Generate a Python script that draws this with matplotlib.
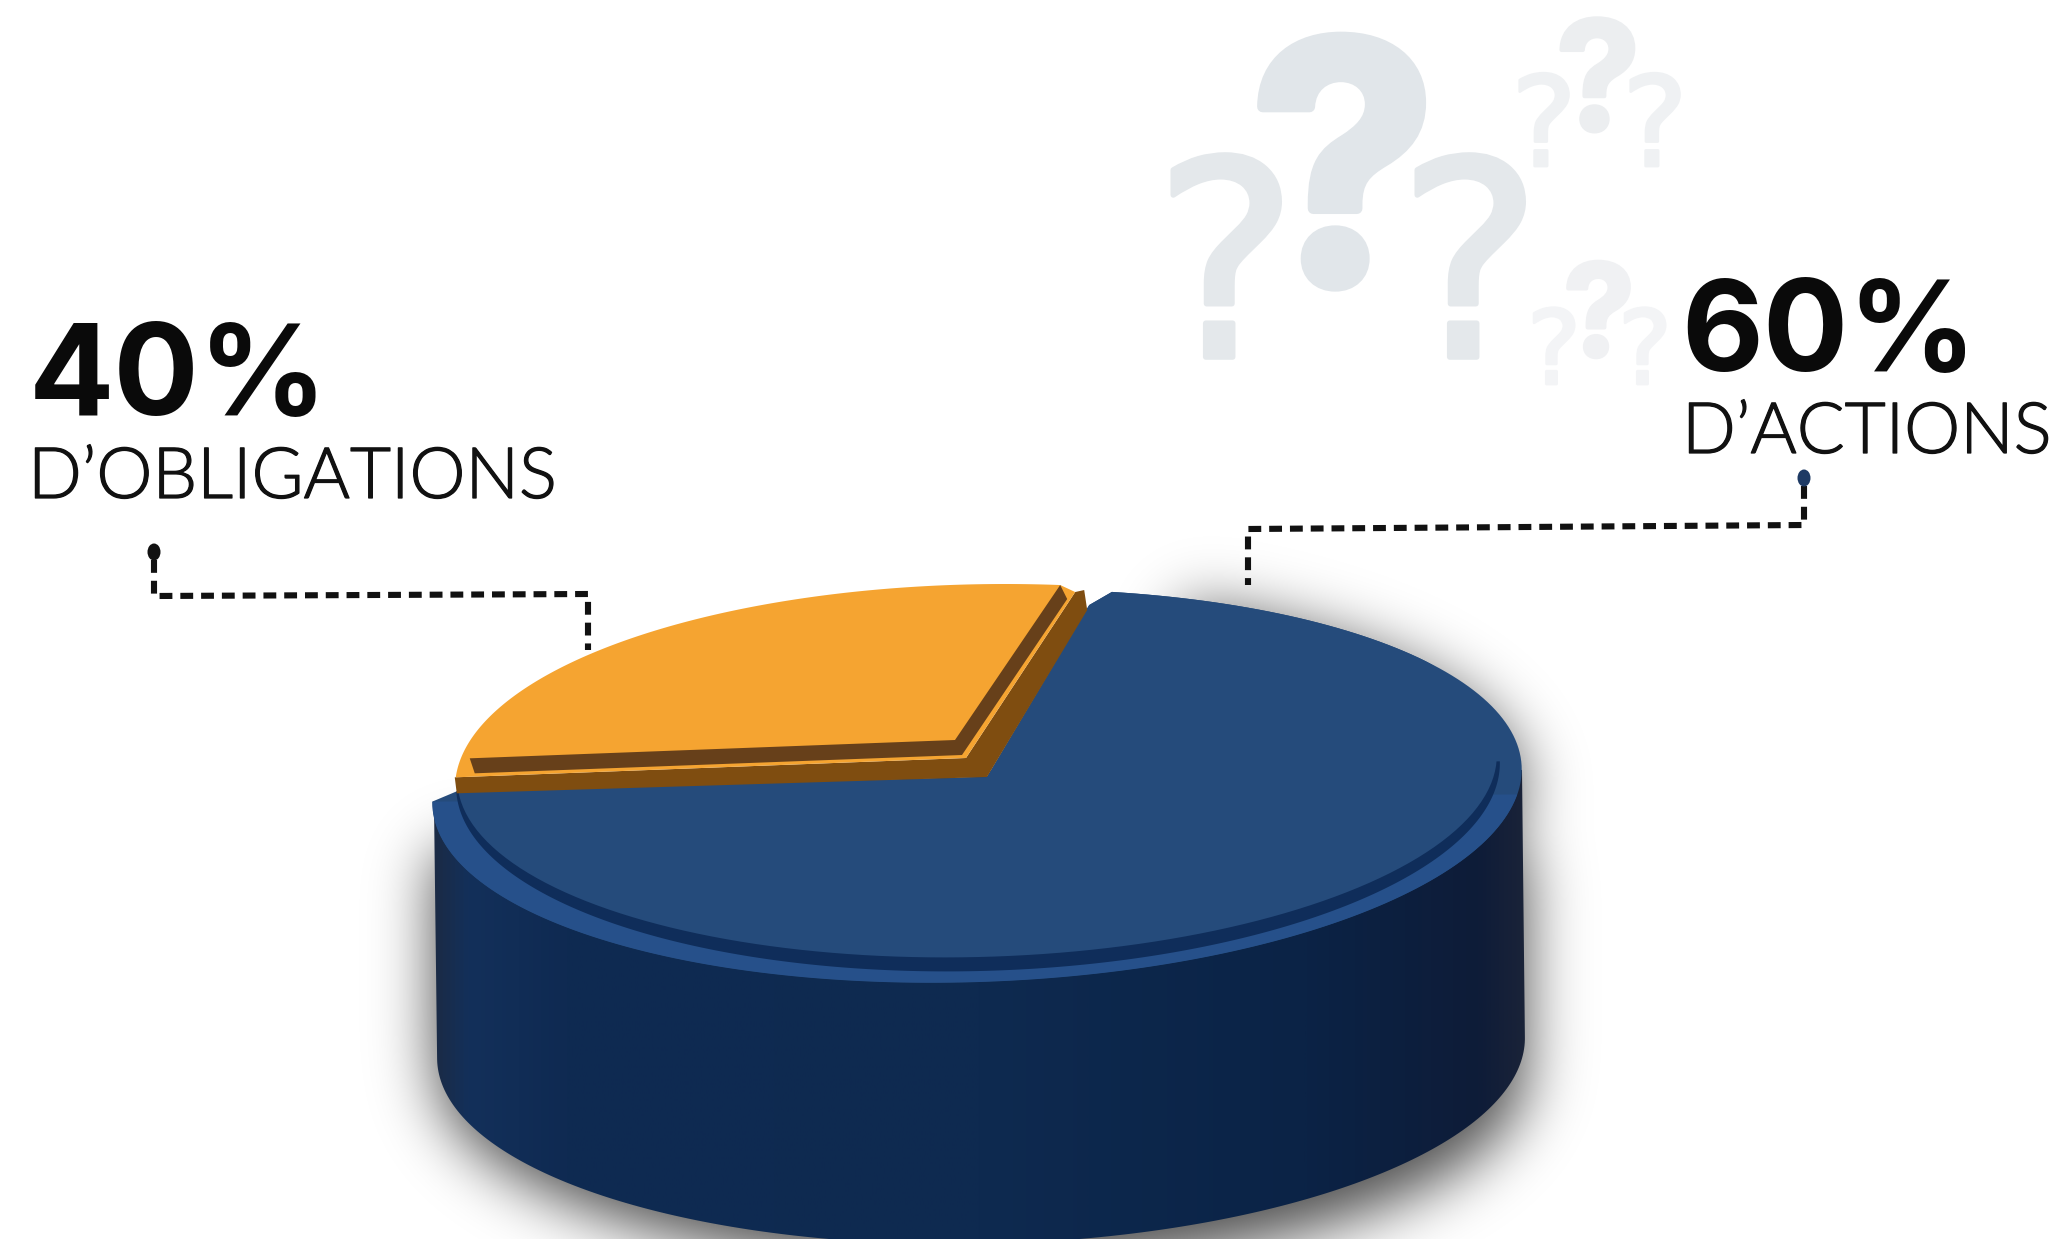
import numpy as np
import matplotlib
matplotlib.use('Agg')
import matplotlib.pyplot as plt
import matplotlib.patheffects as pe
from matplotlib.colors import LinearSegmentedColormap
from matplotlib.patches import Ellipse, Polygon

# Portfolio split
labels = ["D\u2019OBLIGATIONS", "D\u2019ACTIONS"]
shares = [40, 60]

# Angle bookkeeping for the tilted disc: the back of the disc is foreshortened,
# so the orange sector sweeps less of the ellipse than its plain share
FORESHORTEN = 0.665
SECTOR_GAP = 9.3

ORANGE = '#f5a431'
BROWN = '#7f4d10'
BROWN_DARK = '#67401a'
BLUE_TOP = '#254b7b'
BLUE_RIM = '#26508a'
BLUE_BAND = '#0f2d5a'

W, H = 2065, 1239


def arc(cx, cy, rx, ry, t0, t1, n=200, tilt=0.0):
    t = np.radians(np.linspace(t0, t1, n))
    dx, dy = rx * np.cos(t), ry * np.sin(t)
    a = np.radians(tilt)
    return np.column_stack([cx + dx * np.cos(a) - dy * np.sin(a),
                            cy - (dx * np.sin(a) + dy * np.cos(a))])


def body_outline():
    # side wall of the cylinder
    lower = arc(981, 1048, 544, 196, 180, 360, tilt=1.2)
    return np.vstack([lower, [[1522, 770], [434, 805]]])


def soft_shadow(sigma, strength):
    # blurred silhouette of the puck, used as an alpha layer
    pad = 160
    yy, xx = np.mgrid[-pad:H + pad, -pad:W + pad]
    wall = (xx > 434) & (xx < 1526) & (yy > 850) & (yy < 1060)
    foot = ((xx - 981) / 544.0) ** 2 + ((yy - 1072) / 196.0) ** 2 < 1
    back = (((xx - 977) / 544.0) ** 2 + ((yy - 786) / 196.0) ** 2 < 1) & (xx > 1180)
    mask = (wall | foot | back).astype(float)
    fx = np.fft.fftfreq(mask.shape[1])
    fy = np.fft.fftfreq(mask.shape[0])
    kernel = np.exp(-2 * (np.pi * sigma) ** 2 * (fx[None, :] ** 2 + fy[:, None] ** 2))
    blurred = np.fft.irfft2(np.fft.rfft2(mask) * kernel[:, :mask.shape[1] // 2 + 1], s=mask.shape)
    rgba = np.zeros(blurred.shape + (4,))
    rgba[..., 3] = np.clip(blurred, 0, 1) * strength
    return rgba[pad:-pad, pad:-pad]


fig = plt.figure(figsize=(W / 100, H / 100), dpi=100, facecolor='white')
ax = fig.add_axes([0, 0, 1, 1])

# Soft shadow around the puck
ax.imshow(soft_shadow(30, 0.7), extent=(0, W, H, 0), aspect='auto', zorder=1, interpolation='bilinear')

# Side wall with a left to right shading
side_cmap = LinearSegmentedColormap.from_list('side', [
    (0.0, '#1b2b46'), (0.03, '#13305a'), (0.12, '#0f2a52'), (0.5, '#0e2a50'),
    (0.8, '#0b2346'), (0.96, '#0e1c38'), (1.0, '#1a2338')])
side = ax.imshow(np.linspace(0, 1, 512).reshape(1, -1), cmap=side_cmap, aspect='auto',
                 extent=(434, 1525, 1245, 770), zorder=2)
body_patch = Polygon(body_outline(), closed=True, transform=ax.transData, fc='none', ec='none')
ax.add_patch(body_patch)
side.set_clip_path(body_patch)

# Orange sector geometry comes first, the blue sector is cut around it
ORX, ORY, OCX, OCY = 550, 204, 1005, 788
orange_t0 = 180 - shares[0] * 3.6 * FORESHORTEN
right_pt = arc(OCX, OCY, ORX, ORY, orange_t0, orange_t0, 1)[0]
left_pt = arc(OCX, OCY, ORX, ORY, 177, 177, 1)[0]
apex = np.array([955.0, 740.0])
blue_apex = np.array([987.0, 777.0])

# Blue sector: what the orange sector and the gap leave of the disc
blue_start = orange_t0 - SECTOR_GAP
blue_end = 179
blue_outline = np.vstack([arc(977, 786, 545, 196, blue_end, blue_start + 360, tilt=2.0),
                          [right_pt + (29, 20), blue_apex, left_pt + (1, 14)]])
blue_clip = Polygon(blue_outline, closed=True, transform=ax.transData, fc=BLUE_TOP, ec='none', zorder=3)
ax.add_patch(blue_clip)

# Lip of the disc only shows along the front half
rim = Polygon(arc(977, 786, 545, 196, blue_end, 352, tilt=2.0), closed=True, fc=BLUE_RIM, ec='none', zorder=4)
band = Polygon(arc(978, 775, 522, 196, 178, 360, tilt=1.5), closed=True, fc=BLUE_BAND, ec='none', zorder=5)
inner = Polygon(arc(977, 767, 520, 190, 0, 360, tilt=1.5), closed=True, fc=BLUE_TOP, ec='none', zorder=6)
for patch in (rim, band, inner):
    ax.add_patch(patch)
    patch.set_clip_path(blue_clip)

# Orange sector, built up in stepped layers
base = np.array([left_pt + (-1, 0), left_pt + (1, 16), blue_apex, right_pt + (27, 25),
                 right_pt + (24, 5), right_pt + (15, 7), apex + (11, 18)])
ax.add_patch(Polygon(base, closed=True, fc=BROWN, ec='none', zorder=7))

plate = np.vstack([arc(OCX, OCY, ORX, ORY, orange_t0, 177), [apex + (11, 18), right_pt + (15, 7)]])
ax.add_patch(Polygon(plate, closed=True, fc=ORANGE, ec='none', zorder=8))

step = np.array([left_pt + (14, -19), apex, right_pt, right_pt + (7, 14), apex + (7, 15), left_pt + (19, -4)])
ax.add_patch(Polygon(step, closed=True, fc=BROWN_DARK, ec='none', zorder=9))

# Dashed leaders running from the disc to each label
leaders = [([154, 154, 588, 588], [560, 596, 594, 650], '#111111'),
           ([1804, 1804, 1248, 1248], [486, 525, 529, 585], '#1e3a64')]
for xs, ys, dot in leaders:
    ax.plot(xs, ys, color='#111111', lw=4.4, dashes=(2.1, 1.3), solid_capstyle='butt',
            dash_capstyle='butt', zorder=10)
    ax.add_patch(Ellipse((xs[0], ys[0] - 8), 13, 17, fc=dot, ec='none', zorder=11))

# Question marks, drawn as text with softened corners
question_marks = [(1343, 283, 240, 'Inter', 'bold', '#e1e6ea', 8),
                  (1226, 357, 196, 'DejaVu Sans', 'normal', '#e4e8eb', 4),
                  (1470, 357, 196, 'DejaVu Sans', 'normal', '#e4e8eb', 4),
                  (1598, 130, 109, 'Inter', 'bold', '#eceef0', 3),
                  (1544, 166, 90, 'DejaVu Sans', 'normal', '#eff1f3', 2),
                  (1655, 166, 90, 'DejaVu Sans', 'normal', '#eff1f3', 2),
                  (1599, 356, 92, 'Inter', 'bold', '#f0f1f3', 3),
                  (1554, 384, 74, 'DejaVu Sans', 'normal', '#f3f4f6', 2),
                  (1645, 384, 74, 'DejaVu Sans', 'normal', '#f3f4f6', 2)]
for x, y, size, family, weight, colour, soft in question_marks:
    ax.text(x, y, '?', fontsize=size, fontweight=weight, color=colour, family=family,
            ha='center', va='baseline', zorder=2,
            path_effects=[pe.withStroke(linewidth=soft, foreground=colour)])

# Labels
thin_edge = [pe.withStroke(linewidth=0.9, foreground='#111111')]
ax.text(29, 415, f'{shares[0]}%', fontsize=91, fontweight='bold', family='Inter',
        color='#0a0a0a', ha='left', va='baseline', zorder=10)
ax.text(28, 498, labels[0], fontsize=51, fontweight=300, family='Lato',
        color='#111111', ha='left', va='baseline', zorder=10, path_effects=thin_edge)
ax.text(1681, 371, f'{shares[1]}%', fontsize=91, fontweight='bold', family='Inter',
        color='#0a0a0a', ha='left', va='baseline', zorder=10)
ax.text(1682, 453, labels[1], fontsize=51, fontweight=300, family='Lato',
        color='#111111', ha='left', va='baseline', zorder=10, path_effects=thin_edge)

ax.set_xlim(0, W)
ax.set_ylim(H, 0)
ax.axis('off')

fig.savefig('out.png', dpi=100, facecolor='white')
